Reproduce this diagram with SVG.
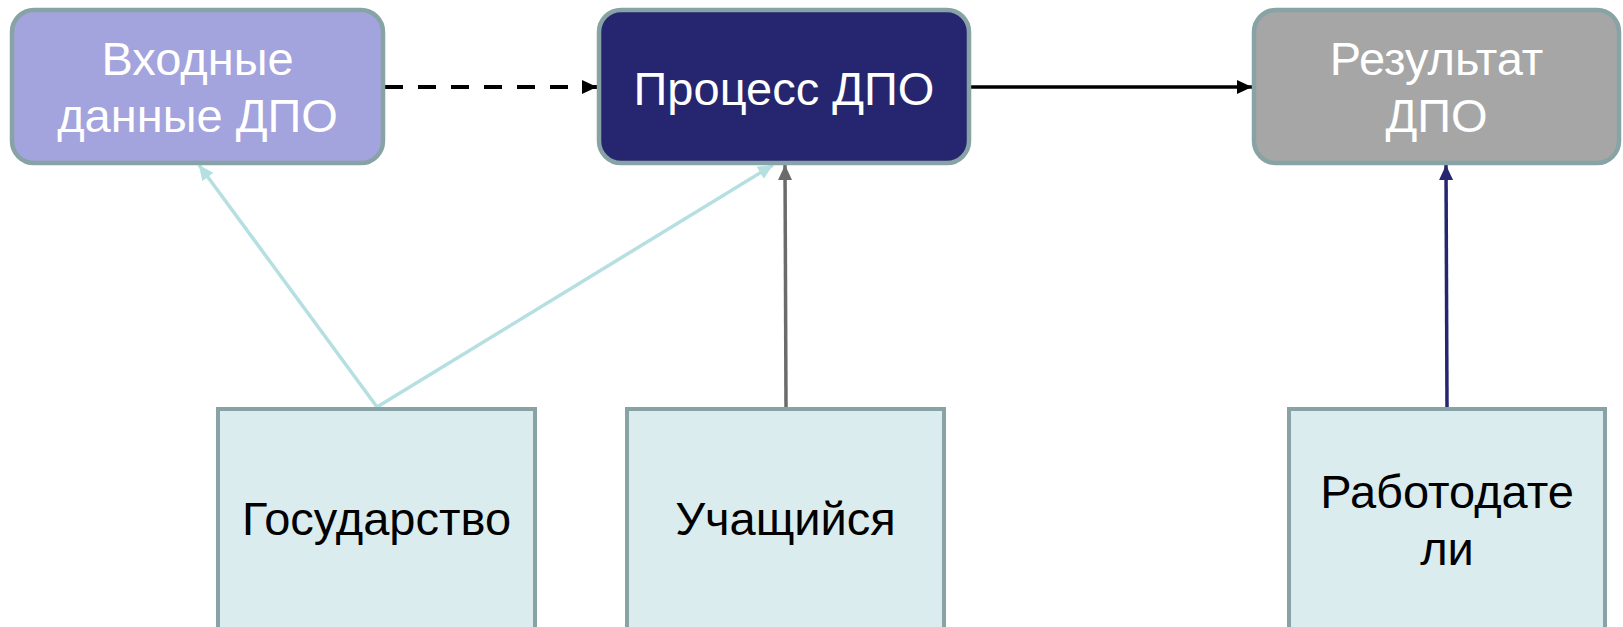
<svg xmlns="http://www.w3.org/2000/svg" width="1623" height="627" viewBox="0 0 1623 627">
<style>
.top{stroke:#88a3a5;stroke-width:4.5}
.bot{fill:#daecee;stroke:#88a3a5;stroke-width:4}
.wt{font-family:"Liberation Sans",Arial,sans-serif;font-size:47px;fill:#ffffff;text-anchor:middle}
.bt{font-family:"Liberation Sans",Arial,sans-serif;font-size:47px;fill:#000000;text-anchor:middle}
.c{fill:none}
</style>
<defs>
<marker id="ab" markerUnits="userSpaceOnUse" markerWidth="16" markerHeight="16" viewBox="0 0 16 16" refX="15" refY="8" orient="auto"><path d="M0,1 L15,8 L0,15 Z" fill="#000000"/></marker>
<marker id="ac" markerUnits="userSpaceOnUse" markerWidth="16" markerHeight="16" viewBox="0 0 16 16" refX="15" refY="8" orient="auto"><path d="M0,1 L15,8 L0,15 Z" fill="#b5dfe1"/></marker>
<marker id="ag" markerUnits="userSpaceOnUse" markerWidth="16" markerHeight="16" viewBox="0 0 16 16" refX="15" refY="8" orient="auto"><path d="M0,1 L15,8 L0,15 Z" fill="#6b6b6b"/></marker>
<marker id="an" markerUnits="userSpaceOnUse" markerWidth="16" markerHeight="16" viewBox="0 0 16 16" refX="15" refY="8" orient="auto"><path d="M0,1 L15,8 L0,15 Z" fill="#262670"/></marker>
</defs>
<g id="connectors">
<line class="c" x1="385" y1="87" x2="597" y2="87" stroke="#000000" stroke-width="4" stroke-dasharray="18 15" marker-end="url(#ab)"/>
<line class="c" x1="971" y1="87" x2="1252" y2="87" stroke="#000000" stroke-width="3.5" marker-end="url(#ab)"/>
<line class="c" x1="377" y1="407" x2="199" y2="165" stroke="#b5dfe1" stroke-width="3.5" marker-end="url(#ac)"/>
<line class="c" x1="377" y1="407" x2="773" y2="165" stroke="#b5dfe1" stroke-width="3.5" marker-end="url(#ac)"/>
<line class="c" x1="786" y1="407" x2="785" y2="165" stroke="#6b6b6b" stroke-width="3.5" marker-end="url(#ag)"/>
<line class="c" x1="1447" y1="407" x2="1446" y2="165" stroke="#262670" stroke-width="3.5" marker-end="url(#an)"/>
</g>
<g id="input">
<rect class="top" x="12" y="10" width="371" height="153" rx="22" fill="#a3a3dd"/>
<text class="wt" x="197.5" y="75">Входные</text>
<text class="wt" x="197.5" y="132">данные ДПО</text>
</g>
<g id="process">
<rect class="top" x="599" y="10" width="370" height="153" rx="22" fill="#262670"/>
<text class="wt" x="784" y="105">Процесс ДПО</text>
</g>
<g id="result">
<rect class="top" x="1254" y="10" width="365" height="153" rx="22" fill="#a6a6a6"/>
<text class="wt" x="1436.5" y="75">Результат</text>
<text class="wt" x="1436.5" y="132">ДПО</text>
</g>
<g id="state">
<rect class="bot" x="218" y="409" width="317" height="240"/>
<text class="bt" x="376.5" y="535">Государство</text>
</g>
<g id="student">
<rect class="bot" x="627" y="409" width="317" height="240"/>
<text class="bt" x="785.5" y="535">Учащийся</text>
</g>
<g id="employers">
<rect class="bot" x="1289" y="409" width="316" height="240"/>
<text class="bt" x="1447" y="508">Работодате</text>
<text class="bt" x="1447" y="565">ли</text>
</g>
</svg>
